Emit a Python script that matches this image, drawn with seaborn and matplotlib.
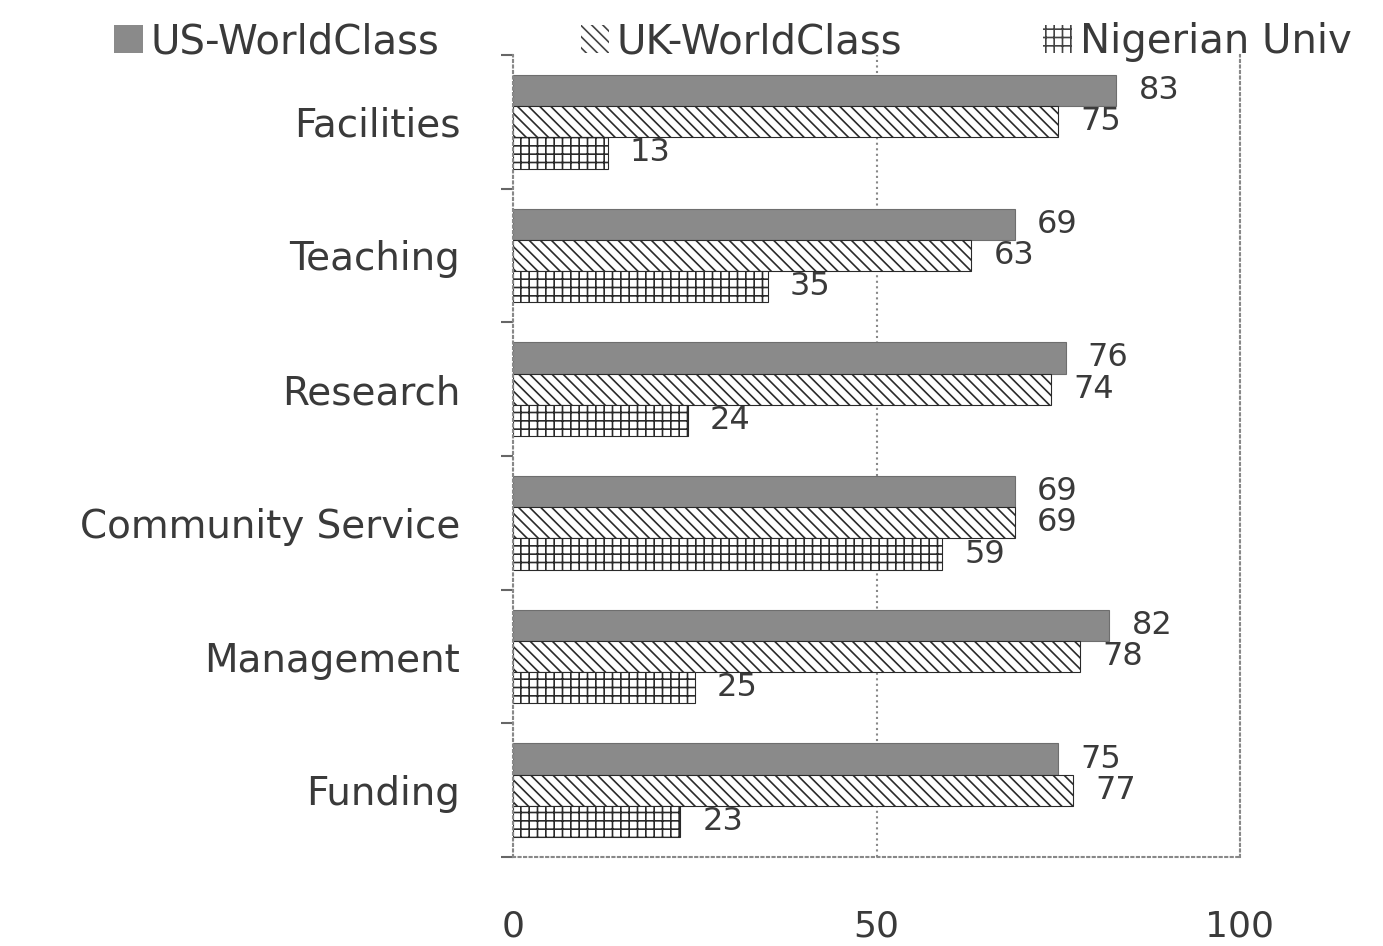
import matplotlib
matplotlib.use("Agg")
import matplotlib.pyplot as plt
import seaborn as sns
import pandas as pd
from matplotlib.patches import Patch
from matplotlib.ticker import FixedLocator

categories = ["Facilities", "Teaching", "Research", "Community Service", "Management", "Funding"]
series = ["US-WorldClass", "UK-WorldClass", "Nigerian Univ"]
us_values = [83, 69, 76, 69, 82, 75]
uk_values = [75, 63, 74, 69, 78, 77]
ng_values = [13, 35, 24, 59, 25, 23]
x_ticks = [0, 50, 100]

rows = []
for s, vals in zip(series, [us_values, uk_values, ng_values]):
    for c, v in zip(categories, vals):
        rows.append({"Category": c, "Series": s, "Value": v})
df = pd.DataFrame(rows)

sns.set_theme(style="white")
plt.rcParams['font.family'] = ['DejaVu Sans']
plt.rcParams['hatch.linewidth'] = 1.2

fig = plt.figure(figsize=(13.83, 9.46), dpi=100)
ax = fig.add_axes([0.371, 0.094, 0.5256, 0.848])

colors = {"US-WorldClass": "#8a8a8a", "UK-WorldClass": "#ffffff", "Nigerian Univ": "#ffffff"}
hatches = {"US-WorldClass": "", "UK-WorldClass": "\\\\\\", "Nigerian Univ": "++"}
txt = "#3a3a3a"

sns.barplot(data=df, y="Category", x="Value", hue="Series", order=categories,
            hue_order=series, palette=colors, orient="h", width=0.7, ax=ax,
            legend=False, saturation=1)

for cont, s in zip(ax.containers, series):
    for bar in cont:
        bar.set_hatch(hatches[s])
        bar.set_edgecolor("#6e6e6e" if s == "US-WorldClass" else "#2a2a2a")
        bar.set_linewidth(0.8)
    ax.bar_label(cont, labels=[f"{int(v)}" for v in cont.datavalues], padding=16,
                 fontsize=23, color=txt)

ax.set_xlim(0, 100)
ax.set_ylim(5.5, -0.5)
ax.set_xticks(x_ticks)
ax.set_xticklabels([str(t) for t in x_ticks], fontsize=26, color=txt)
ax.tick_params(axis="x", length=8, width=1.5, pad=30, color="#888888")
ax.tick_params(axis="y", which="major", length=0, pad=38, labelsize=28, labelcolor=txt)
ax.yaxis.set_minor_locator(FixedLocator([-0.5 + i for i in range(7)]))
ax.tick_params(axis="y", which="minor", length=9, width=1.5, color="#666666", left=True)
ax.set_xlabel("")
ax.set_ylabel("")
ax.grid(axis="x", linestyle=":", color="#888888", linewidth=1.5)
for name, sp in ax.spines.items():
    sp.set_visible(True)
    sp.set_linestyle(":")
    sp.set_color("#888888")
    sp.set_linewidth(1.5)
ax.spines["top"].set_visible(False)

handles = [Patch(facecolor=colors[s], edgecolor="#777777" if s == "US-WorldClass" else "#444444",
                 hatch=hatches[s], linewidth=0, label=s) for s in series]
fig.legend(handles=handles, loc="upper center", bbox_to_anchor=(0.53, 1.015), ncol=3,
           frameon=False, fontsize=29, handlelength=0.7, handleheight=0.7,
           handletextpad=0.2, columnspacing=3.5, labelcolor=txt)

fig.savefig("out.png", dpi=100)
